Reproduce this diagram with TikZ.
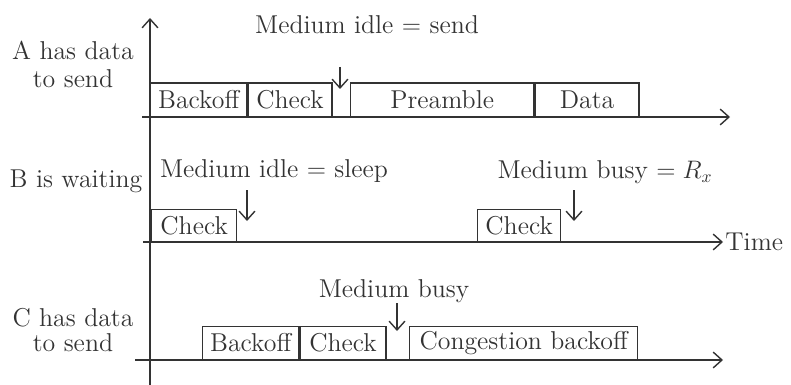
\documentclass[tikz,border=0pt]{standalone}
\usepackage{amsmath,amssymb}
\usepackage{tikz}
\usetikzlibrary{positioning,arrows.meta}

\tikzset{slot/.style={draw,anchor=south west,inner sep=0pt,minimum height=.67cm}}

\begin{document}
\begin{tikzpicture}[x=.02cm,y=-.02cm,line width=.8pt,color=black!80,
  >={Straight Barb[length=5pt,width=9pt]},font=\fontsize{14.7}{16}\selectfont]
\useasboundingbox (0,0) rectangle (791,385);

% axes
\coordinate (vbot) at (150,385);
\coordinate (vtop) at (150,18);
\draw[->] (vbot)--(vtop);
\coordinate (astart) at (142,117); \coordinate (aend) at (730,117);
\coordinate (bstart) at (143,242); \coordinate (bend) at (723,242);
\coordinate (cstart) at (135,360); \coordinate (cend) at (723,360);
\draw[->] (astart)--(aend);
\draw[->] (bstart)--(bend);
\draw[->] (cstart)--(cend);
\node[right=1pt of bend,inner sep=0pt] (time) {Time};

% station A
\node[align=center] (labA) at (73,64) {A has data\\to send};
\node[slot,minimum width=1.92cm] (backA) at (150,117) {Backoff};
\node[slot,minimum width=1.68cm,right=0pt of backA] (chkA) {Check};
\node[slot,minimum width=3.66cm] (preA) at (350,117) {Preamble};
\node[slot,minimum width=2.08cm,right=0pt of preA] (dataA) {Data};
\node (idleA) at (367,25) {Medium idle $=$ send};
\coordinate (pa1) at (340,67); \coordinate (pa2) at (340,89);
\draw[->] (pa1)--(pa2);

% station B
\node (labB) at (76,181) {B is waiting};
\node[slot,minimum width=1.70cm,minimum height=.64cm] (chkB1) at (151,242) {Check};
\node[slot,minimum width=1.66cm,minimum height=.64cm] (chkB2) at (477,242) {Check};
\node (idleB) at (274,171) {Medium idle $=$ sleep};
\node (busyB) at (605,172) {Medium busy $=R_x$};
\coordinate (pb1) at (247,190); \coordinate (pb2) at (247,221);
\coordinate (pb3) at (574,190); \coordinate (pb4) at (574,221);
\draw[->] (pb1)--(pb2);
\draw[->] (pb3)--(pb4);

% station C
\node[align=center] (labC) at (73,330) {C has data\\[-2pt]to send};
\node[slot,minimum width=1.92cm,minimum height=.66cm] (backC) at (202,360) {Backoff};
\node[slot,minimum width=1.72cm,minimum height=.66cm,right=0pt of backC] (chkC) {Check};
\node[slot,minimum width=4.56cm,minimum height=.66cm] (congC) at (409,360) {Congestion backoff};
\node (busyC) at (394,291) {Medium busy};
\coordinate (pc1) at (397,303); \coordinate (pc2) at (397,331);
\draw[->] (pc1)--(pc2);
\end{tikzpicture}
\end{document}
